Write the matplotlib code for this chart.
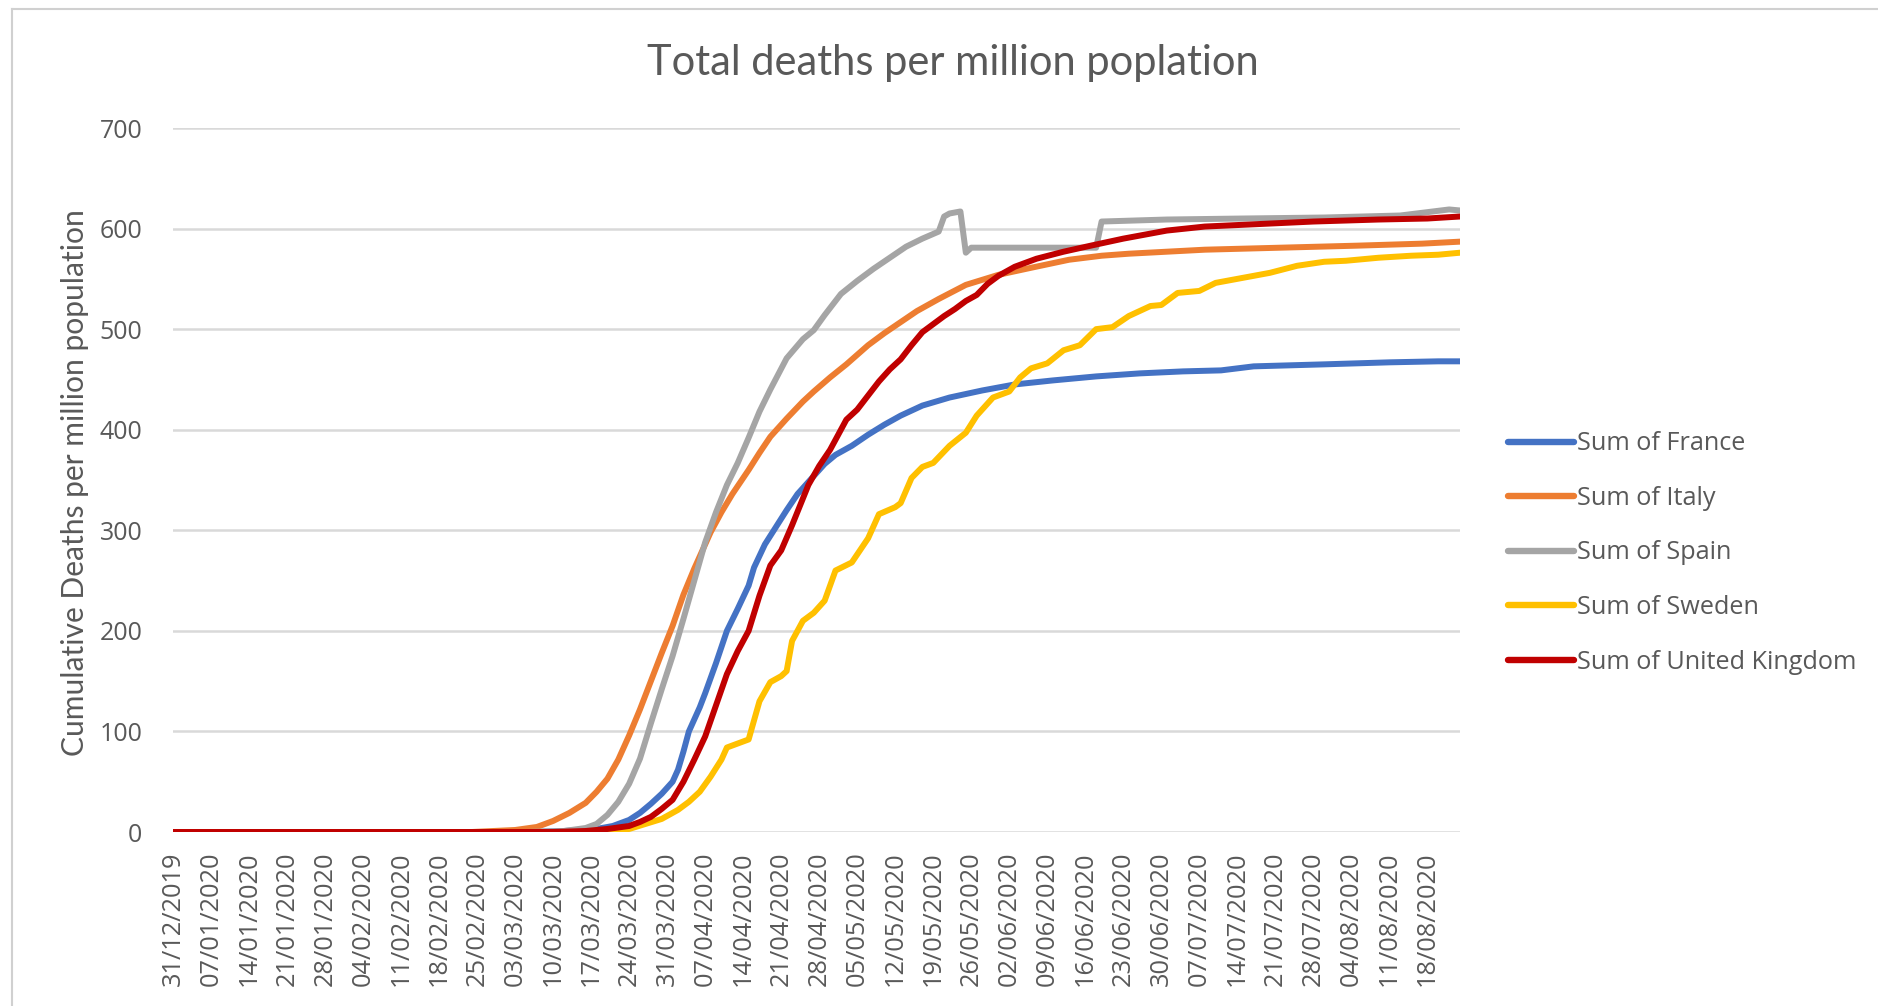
import matplotlib
matplotlib.use("Agg")
import matplotlib.pyplot as plt
from matplotlib.lines import Line2D
import pandas as pd

# ---- data: cumulative deaths per million population ----
france_dates = ["2019-12-31", "2020-03-06", "2020-03-12", "2020-03-18", "2020-03-21", "2020-03-24",
                "2020-03-26", "2020-03-28", "2020-03-30", "2020-04-01", "2020-04-02", "2020-04-03",
                "2020-04-04", "2020-04-05", "2020-04-06", "2020-04-07", "2020-04-09", "2020-04-11",
                "2020-04-13", "2020-04-15", "2020-04-16", "2020-04-18", "2020-04-20", "2020-04-22",
                "2020-04-24", "2020-04-27", "2020-04-29", "2020-05-01", "2020-05-04", "2020-05-07",
                "2020-05-10", "2020-05-13", "2020-05-17", "2020-05-22", "2020-05-28", "2020-06-03",
                "2020-06-10", "2020-06-18", "2020-06-26", "2020-07-04", "2020-07-11", "2020-07-17",
                "2020-07-30", "2020-08-11", "2020-08-20", "2020-08-24"]
france_vals = [0, 0, 1, 3, 6, 12,
               19, 28, 38, 50, 62, 80,
               100, 112, 124, 138, 168, 200,
               222, 245, 263, 286, 303, 320,
               336, 354, 366, 375, 384, 395,
               405, 414, 424, 432, 439, 445,
               449, 453, 456, 458, 459, 463,
               465, 467, 468, 468]

italy_dates = ["2019-12-31", "2020-02-24", "2020-03-03", "2020-03-07", "2020-03-10", "2020-03-13",
               "2020-03-16", "2020-03-18", "2020-03-20", "2020-03-22", "2020-03-24", "2020-03-26",
               "2020-03-28", "2020-03-30", "2020-04-01", "2020-04-03", "2020-04-05", "2020-04-08",
               "2020-04-10", "2020-04-12", "2020-04-15", "2020-04-17", "2020-04-19", "2020-04-22",
               "2020-04-25", "2020-04-27", "2020-04-30", "2020-05-03", "2020-05-07", "2020-05-10",
               "2020-05-13", "2020-05-16", "2020-05-20", "2020-05-25", "2020-05-31", "2020-06-06",
               "2020-06-13", "2020-06-19", "2020-06-24", "2020-07-01", "2020-07-08", "2020-07-22",
               "2020-08-05", "2020-08-17", "2020-08-24"]
italy_vals = [0, 0, 2, 5, 11, 19,
              29, 40, 53, 72, 96, 122,
              150, 178, 205, 236, 262, 298,
              318, 336, 360, 377, 393, 411,
              428, 438, 452, 465, 484, 496,
              507, 518, 530, 544, 554, 561,
              569, 573, 575, 577, 579, 581,
              583, 585, 587]

spain_dates = ["2019-12-31", "2020-03-05", "2020-03-12", "2020-03-16", "2020-03-18", "2020-03-20",
               "2020-03-22", "2020-03-24", "2020-03-26", "2020-03-28", "2020-03-30", "2020-04-01",
               "2020-04-03", "2020-04-05", "2020-04-07", "2020-04-09", "2020-04-11", "2020-04-13",
               "2020-04-15", "2020-04-17", "2020-04-19", "2020-04-22", "2020-04-25", "2020-04-27",
               "2020-04-29", "2020-05-02", "2020-05-05", "2020-05-08", "2020-05-11", "2020-05-14",
               "2020-05-17", "2020-05-20", "2020-05-21", "2020-05-22", "2020-05-24", "2020-05-25",
               "2020-05-26", "2020-06-18", "2020-06-19", "2020-07-01", "2020-07-15", "2020-07-30",
               "2020-08-13", "2020-08-19", "2020-08-22", "2020-08-24"]
spain_vals = [0, 0, 1, 4, 8, 17,
              30, 48, 73, 108, 142, 175,
              212, 250, 288, 318, 345, 367,
              392, 418, 440, 471, 490, 499,
              514, 535, 548, 560, 571, 582,
              590, 597, 612, 615, 617, 576,
              581, 581, 607, 609, 610, 611,
              613, 617, 619, 618]

sweden_dates = ["2019-12-31", "2020-03-15", "2020-03-20", "2020-03-24", "2020-03-27", "2020-03-30",
                "2020-04-02", "2020-04-04", "2020-04-06", "2020-04-08", "2020-04-10", "2020-04-11",
                "2020-04-13", "2020-04-15", "2020-04-17", "2020-04-19", "2020-04-21", "2020-04-22",
                "2020-04-23", "2020-04-25", "2020-04-27", "2020-04-29", "2020-05-01", "2020-05-04",
                "2020-05-07", "2020-05-09", "2020-05-12", "2020-05-13", "2020-05-15", "2020-05-17",
                "2020-05-19", "2020-05-22", "2020-05-25", "2020-05-27", "2020-05-30", "2020-06-02",
                "2020-06-04", "2020-06-06", "2020-06-09", "2020-06-12", "2020-06-15", "2020-06-18",
                "2020-06-21", "2020-06-24", "2020-06-28", "2020-06-30", "2020-07-03", "2020-07-07",
                "2020-07-10", "2020-07-14", "2020-07-20", "2020-07-25", "2020-07-30", "2020-08-03",
                "2020-08-09", "2020-08-15", "2020-08-20", "2020-08-24"]
sweden_vals = [0, 0, 1, 3, 8, 13,
               22, 30, 40, 55, 72, 84,
               88, 92, 130, 149, 155, 160,
               190, 210, 218, 230, 260, 268,
               292, 316, 323, 327, 352, 363,
               367, 384, 397, 414, 432, 438,
               452, 461, 466, 479, 484, 500,
               502, 513, 523, 524, 536, 538,
               546, 550, 556, 563, 567, 568,
               571, 573, 574, 576]

uk_dates = ["2019-12-31", "2020-03-10", "2020-03-16", "2020-03-20", "2020-03-24", "2020-03-26",
            "2020-03-28", "2020-03-30", "2020-04-01", "2020-04-03", "2020-04-05", "2020-04-07",
            "2020-04-09", "2020-04-11", "2020-04-13", "2020-04-15", "2020-04-17", "2020-04-19",
            "2020-04-21", "2020-04-23", "2020-04-26", "2020-04-28", "2020-04-30", "2020-05-03",
            "2020-05-05", "2020-05-07", "2020-05-09", "2020-05-11", "2020-05-13", "2020-05-15",
            "2020-05-17", "2020-05-19", "2020-05-21", "2020-05-23", "2020-05-25", "2020-05-27",
            "2020-05-29", "2020-05-31", "2020-06-03", "2020-06-07", "2020-06-12", "2020-06-17",
            "2020-06-23", "2020-07-01", "2020-07-08", "2020-07-16", "2020-07-28", "2020-08-09",
            "2020-08-18", "2020-08-24"]
uk_vals = [0, 0, 1, 3, 6, 10,
           15, 23, 32, 50, 72, 95,
           126, 157, 180, 200, 235, 265,
           280, 305, 345, 364, 380, 410,
           420, 434, 448, 460, 470, 484,
           497, 505, 513, 520, 528, 534,
           545, 553, 562, 570, 577, 583,
           590, 598, 602, 604, 607, 609,
           610, 612]

series_names = ["Sum of France", "Sum of Italy", "Sum of Spain", "Sum of Sweden",
                "Sum of United Kingdom"]
series_colors = ["#4472C4", "#ED7D31", "#A5A5A5", "#FFC000", "#C00000"]
series_data = [(france_dates, france_vals), (italy_dates, italy_vals),
               (spain_dates, spain_vals), (sweden_dates, sweden_vals),
               (uk_dates, uk_vals)]

first_day = "2019-12-31"
last_day = "2020-08-24"
tick_days = pd.date_range(first_day, "2020-08-18", freq="7D")
tick_labels = [d.strftime("%d/%m/%Y") for d in tick_days]
y_ticks = [0, 100, 200, 300, 400, 500, 600, 700]

# ---- figure ----
W, H = 1878, 1006
fig = plt.figure(figsize=(W / 100, H / 100), dpi=100)
fig.patch.set_facecolor("white")

text_color = "#595959"
grid_color = "#D9D9D9"
tick_font = ["Open Sans", "DejaVu Sans"]

ax = fig.add_axes([173 / W, 1 - 832 / H, (1460 - 173) / W, (832 - 128) / H])
ax.set_facecolor("white")

for (dates, vals), name, color in zip(series_data, series_names, series_colors):
    ax.plot(pd.to_datetime(dates), vals, color=color, lw=4.3, label=name,
            solid_joinstyle="round", solid_capstyle="round", zorder=3)

ax.set_xlim(pd.Timestamp(first_day), pd.Timestamp(last_day))
ax.set_ylim(0, 700)
ax.set_yticks(y_ticks)
ax.set_xticks(tick_days)
ax.set_xticklabels(tick_labels, rotation=90, fontsize=18.3, color=text_color,
                   family=tick_font)
ax.set_yticklabels([str(v) for v in y_ticks], fontsize=18, color=text_color,
                   family=tick_font)
ax.tick_params(axis="x", length=0, pad=14)
ax.tick_params(axis="y", length=0, pad=22)
ax.grid(axis="y", color=grid_color, lw=1.8, zorder=0)
ax.set_axisbelow(True)
for s in ax.spines.values():
    s.set_visible(False)

fig.text(952.7 / W, 1 - 63 / H, "Total deaths per million poplation", ha="center",
         va="center", fontsize=30, color=text_color, family=["Lato", "DejaVu Sans"])
fig.text(75 / W, 1 - 483 / H, "Cumulative Deaths per million population", ha="center",
         va="center", rotation=90, fontsize=21.6, color=text_color,
         family=["Lato", "DejaVu Sans"])

leg = ax.legend(loc="center left", bbox_to_anchor=(1508 / W, 1 - 553 / H),
                bbox_transform=fig.transFigure, frameon=False,
                handlelength=2.6, handletextpad=0.12, labelspacing=1.17,
                borderpad=0, borderaxespad=0,
                prop={"family": tick_font, "size": 18.2})
for t in leg.get_texts():
    t.set_color(text_color)
for h in leg.legend_handles:
    h.set_linewidth(4.6)

# outer chart border
border = "#D0D0D0"
fig.add_artist(Line2D([12 / W, 1.0], [1 - 9 / H, 1 - 9 / H], color=border, lw=1.5,
                      transform=fig.transFigure))
fig.add_artist(Line2D([12 / W, 12 / W], [0.0, 1 - 9 / H], color=border, lw=1.5,
                      transform=fig.transFigure))

fig.savefig("out.png", dpi=100, facecolor="white")
